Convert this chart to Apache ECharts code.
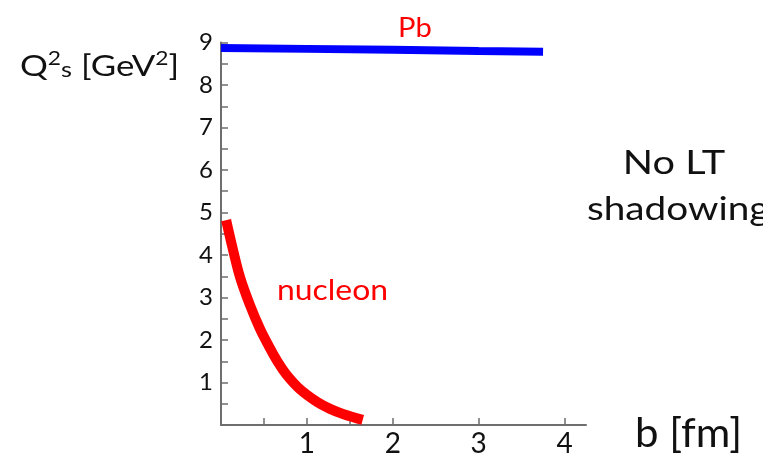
<!DOCTYPE html>
<html>
<head>
<meta charset="utf-8">
<script src="https://cdn.jsdelivr.net/npm/echarts@6/dist/echarts.min.js"></script>
<style>
  html, body { margin: 0; padding: 0; background: #fff; }
  #chart { width: 763px; height: 458px; }
</style>
</head>
<body>
<div id="chart"></div>
<script>
// nucleon curve
const nucleonB = [0.06, 0.14, 0.22, 0.33, 0.45, 0.54, 0.65, 0.76, 0.92, 1.12, 1.27, 1.42, 1.65]
const nucleonQ = [4.82, 4.12, 3.49, 2.86, 2.28, 1.92, 1.52, 1.19, 0.84, 0.54, 0.38, 0.26, 0.12]

// Pb line (almost flat)
const pbB = [0, 1, 2, 3, 3.75]
const pbQ = [8.87, 8.85, 8.83, 8.80, 8.78]

// axis ticks / labels
const xTicks = [0.5, 1, 1.5, 2, 3, 4]
const xLabels = [1, 2, 3, 4]
const yLabels = [1, 2, 3, 4, 5, 6, 7, 8, 9]

const pairs = (xs, ys) => xs.map((x, i) => [x, ys[i]])

const axisGray = '#6e6e6e'
const FONT = 'Lato'

const chart = echarts.init(document.getElementById('chart'))

// text in the slide is a bit stretched sideways
const txt = (x, y, text, size, fill, sx, align) => ({
  type: 'text',
  x: x, y: y,
  scaleX: sx,
  style: { text: text, fill: fill, font: size + 'px ' + FONT, align: align || 'left' }
})

const option = {
  animation: false,
  grid: { left: 221, right: 177, top: 42.5, bottom: 33 },
  xAxis: {
    type: 'value',
    min: 0,
    max: 4.25,
    splitLine: { show: false },
    axisLine: { lineStyle: { color: axisGray, width: 2 } },
    axisTick: {
      inside: true,
      length: 7,
      customValues: xTicks,
      lineStyle: { color: axisGray, width: 1.5 }
    },
    axisLabel: {
      customValues: xLabels,
      color: '#111',
      fontFamily: FONT,
      fontSize: 28,
      margin: 5
    }
  },
  yAxis: {
    type: 'value',
    min: 0,
    max: 9,
    interval: 0.5,
    splitLine: { show: false },
    axisLine: { lineStyle: { color: axisGray, width: 2 } },
    axisTick: {
      inside: true,
      length: 7,
      lineStyle: { color: axisGray, width: 1.5 }
    },
    axisLabel: {
      customValues: yLabels,
      color: '#111',
      fontFamily: FONT,
      fontSize: 24,
      margin: 8
    }
  },
  series: [
    {
      name: 'Pb',
      type: 'line',
      data: pairs(pbB, pbQ),
      showSymbol: false,
      lineStyle: { color: '#0000ff', width: 8, cap: 'butt' }
    },
    {
      name: 'nucleon',
      type: 'line',
      data: pairs(nucleonB, nucleonQ),
      smooth: 0.4,
      showSymbol: false,
      lineStyle: { color: '#ff0000', width: 10, cap: 'butt' }
    }
  ],
  graphic: [
    {
      type: 'text',
      x: 20, y: 45,
      scaleX: 1.2,
      style: {
        text: '{m|Q}{sup|2}{sub|s}{m| [GeV}{sup|2}{m|]}',
        fill: '#111',
        rich: {
          m: { fontFamily: FONT, fontSize: 29, lineHeight: 36, verticalAlign: 'bottom', fill: '#111' },
          sup: { fontFamily: FONT, fontSize: 19, lineHeight: 20, verticalAlign: 'top', padding: [4, 0, 0, 0], fill: '#111' },
          sub: { fontFamily: FONT, fontSize: 21, lineHeight: 20, verticalAlign: 'bottom', fill: '#111' }
        }
      }
    },
    txt(398, 16, 'Pb', 26, '#ff0000', 1.12),
    txt(277, 276, 'nucleon', 29, '#ff0000', 1.1),
    txt(674, 148, 'No LT', 32, '#111', 1.24, 'center'),
    txt(587, 194, 'shadowing', 32, '#111', 1.21),
    txt(635, 414, 'b [fm]', 40, '#111', 1.05)
  ]
}

chart.setOption(option)
</script>
</body>
</html>
